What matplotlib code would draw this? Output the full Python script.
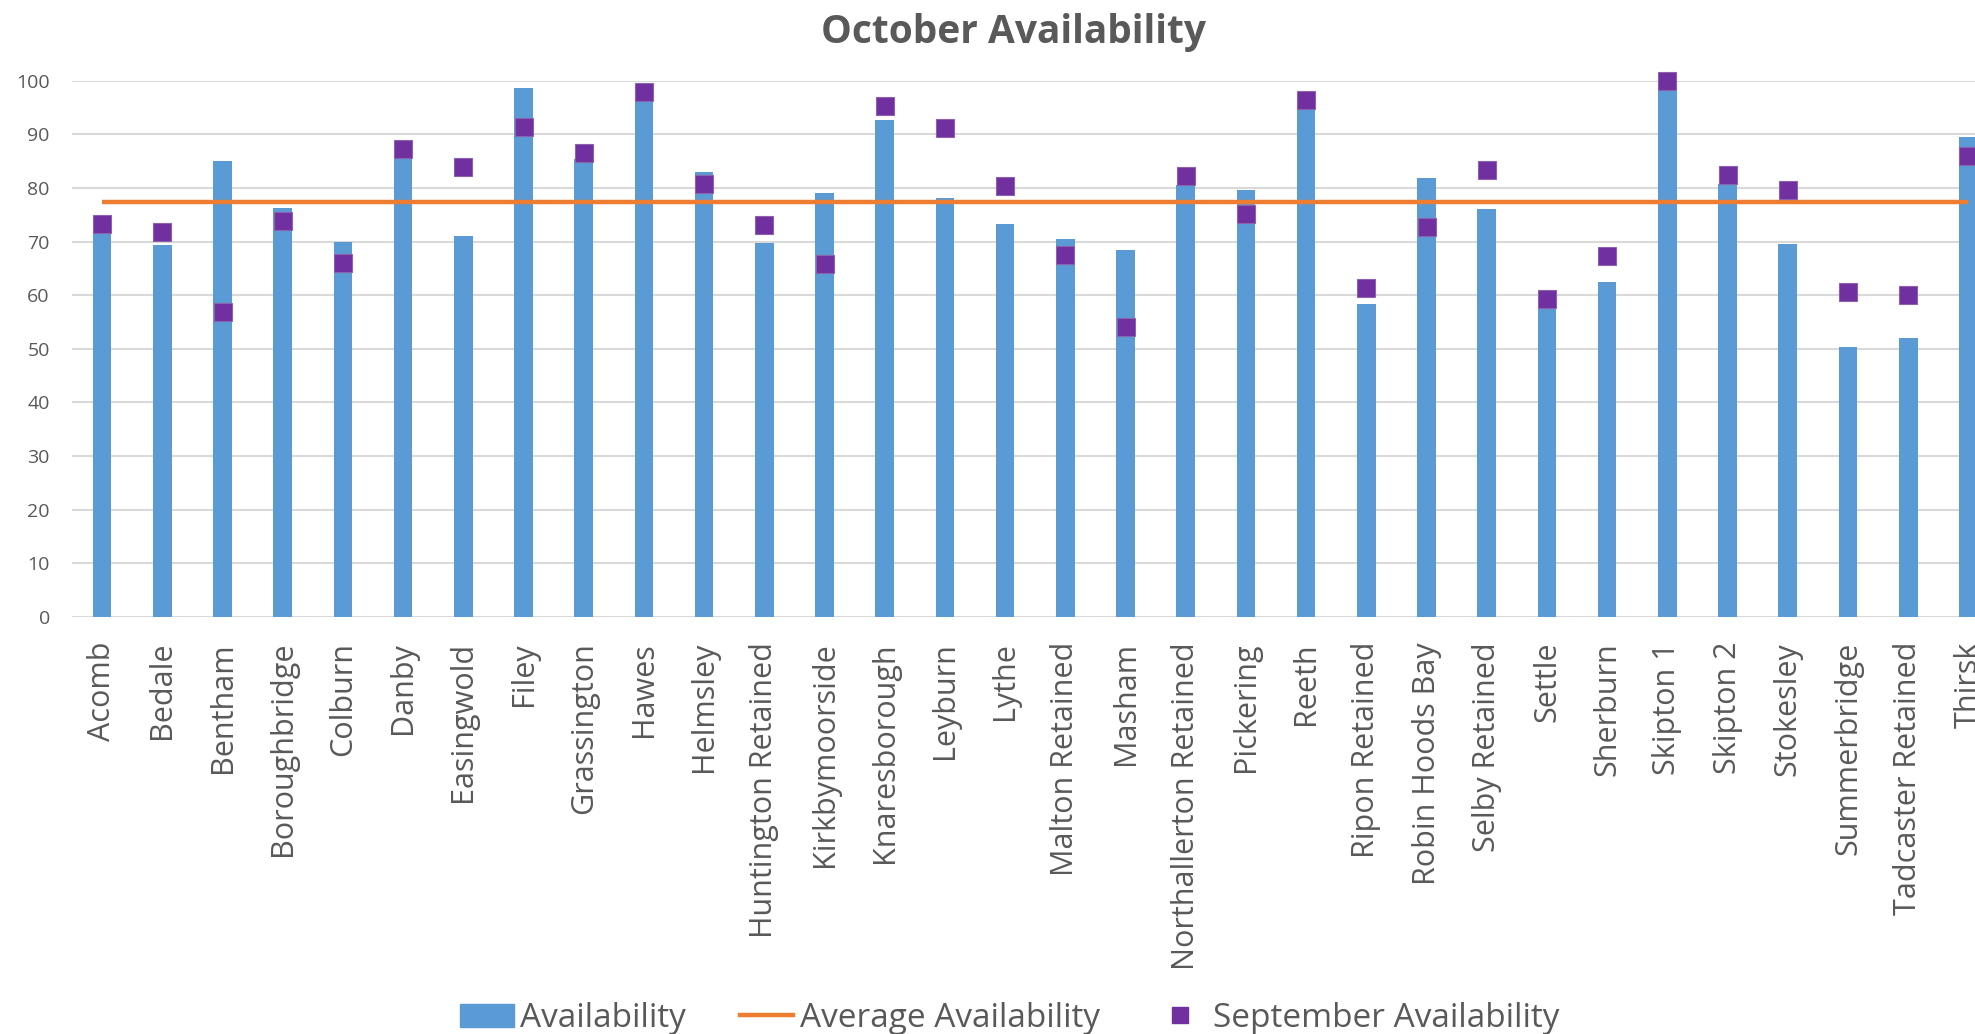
import matplotlib
matplotlib.use("Agg")
import matplotlib.pyplot as plt
from matplotlib.lines import Line2D
from matplotlib.patches import Patch

plt.rcParams["font.family"] = ["Open Sans", "DejaVu Sans"]

# data
sites = ["Acomb", "Bedale", "Bentham", "Boroughbridge", "Colburn", "Danby",
         "Easingwold", "Filey", "Grassington", "Hawes", "Helmsley",
         "Huntington Retained", "Kirkbymoorside", "Knaresborough", "Leyburn",
         "Lythe", "Malton Retained", "Masham", "Northallerton Retained",
         "Pickering", "Reeth", "Ripon Retained", "Robin Hoods Bay",
         "Selby Retained", "Settle", "Sherburn", "Skipton 1", "Skipton 2",
         "Stokesley", "Summerbridge", "Tadcaster Retained", "Thirsk"]
october = [72.0, 69.3, 85.1, 76.2, 70.0, 86.0, 71.0, 98.7, 85.3, 96.5, 82.9,
           69.8, 79.1, 92.6, 78.1, 73.2, 70.4, 68.5, 80.6, 79.7, 94.8, 58.4,
           81.9, 76.1, 57.8, 62.4, 98.2, 80.8, 69.6, 50.3, 52.0, 89.5]
september = [73.2, 71.8, 56.9, 73.8, 66.0, 87.3, 83.9, 91.4, 86.5, 97.8, 80.8,
             73.0, 65.8, 95.2, 91.2, 80.3, 67.4, 54.1, 82.2, 75.1, 96.3, 61.3,
             72.7, 83.4, 59.2, 67.3, 99.9, 82.5, 79.7, 60.6, 60.0, 85.9]
average = 77.3
yticks = [0, 10, 20, 30, 40, 50, 60, 70, 80, 90, 100]

blue = "#5B9BD5"
orange = "#ED7D31"
purple = "#7030A0"
grey = "#595959"

fig = plt.figure(figsize=(19.75, 10.34), dpi=100)
ax = fig.add_axes([72 / 1975, 0.4033, 1 - 72 / 1975, 0.922 - 0.4033])

x = list(range(len(sites)))
ax.bar(x, october, width=0.31, color=blue, zorder=2)
ax.plot(x, [average] * len(x), color=orange, lw=3.2, zorder=3,
        solid_capstyle="butt")
ax.plot(x, september, ls="none", marker="s", ms=13, color=purple,
        mec="#8A62AE", mew=0.8, zorder=4, clip_on=False)

ax.set_xlim(-0.5, 31.11)
ax.set_ylim(0, 100)
ax.set_yticks(yticks)
ax.set_xticks(x)
ax.set_xticklabels(sites, rotation=90, fontsize=22, color=grey)
ax.tick_params(axis="x", length=0, pad=18)
ax.tick_params(axis="y", length=0, pad=16, labelsize=14, labelcolor=grey)
ax.grid(axis="y", color="#D9D9D9", lw=1.5, zorder=0)
for s in ax.spines.values():
    s.set_visible(False)

fig.text(1013 / 1975, 1 - 32 / 1034, "October Availability", ha="center",
         va="center", fontsize=28, fontweight="bold", color=grey)

handles = [Patch(color=blue),
           Line2D([], [], color=orange, lw=3.2),
           Line2D([], [], ls="none", marker="s", ms=11, color=purple)]
labels = ["Availability", "Average Availability", "September Availability"]
fig.legend(handles, labels, loc="lower center", ncol=3, frameon=False,
           bbox_to_anchor=(1010 / 1975, -0.03), fontsize=24,
           handlelength=1.6, handletextpad=0.2, columnspacing=1.6,
           labelcolor=grey)

fig.savefig("out.png", dpi=100)
plt.close(fig)
